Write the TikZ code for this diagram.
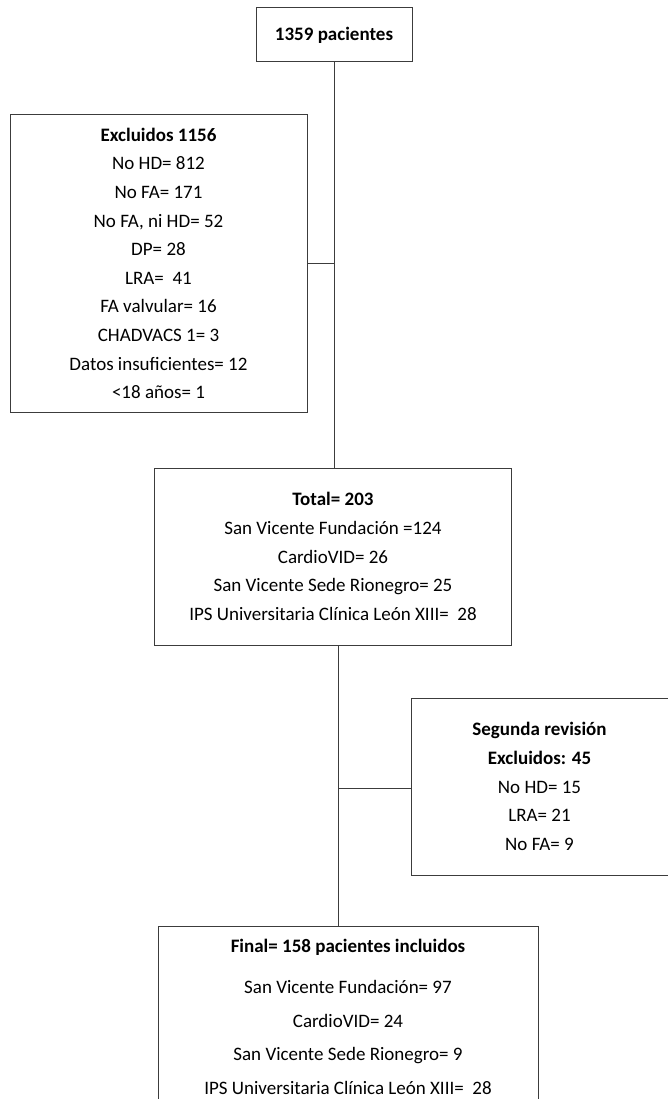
\documentclass[tikz,border=0pt]{standalone}
\usepackage{fontspec}
\setmainfont{Carlito}
\usetikzlibrary{calc}
\definecolor{flowline}{RGB}{60,60,60}
\newcommand{\fsz}{\fontsize{19}{28.6}\selectfont}
\tikzset{
  fbox/.style   = {draw=flowline, line width=1pt, align=center, inner sep=0pt, font=\fsz}, % a plain box
  ftitle/.style = {fbox, font=\fsz\bfseries},                                          % one bold line
  fline/.style  = {draw=flowline, line width=1pt},                                     % a joining line
}
\begin{document}
\begin{tikzpicture}[x=1pt, y=-1pt]
  \useasboundingbox (0,0) rectangle (667,1099);
  % boxes
  \node[ftitle, minimum width=156pt, minimum height=54pt] (start) at (334,35) {1359 pacientes};
  \node[fbox, minimum width=297pt, minimum height=297pt] (excl) at (158.5,263.5)
    {\textbf{Excluidos 1156}\\ No HD= 812\\ No FA= 171\\ No FA, ni HD= 52\\ DP= 28\\
     LRA= \ 41\\ FA valvular= 16\\ CHADVACS 1= 3\\ Datos insuficientes= 12\\ <18 años= 1};
  \node[fbox, minimum width=357pt, minimum height=177pt] (total) at (333,556.5)
    {\textbf{Total= 203}\\ San Vicente Fundación =124\\ CardioVID= 26\\
     San Vicente Sede Rionegro= 25\\ IPS Universitaria Clínica León XIII= \ 28};
  \node[fbox, minimum width=257pt, minimum height=177pt] (second) at (539.5,786.5)
    {\textbf{Segunda revisión}\\ \textbf{Excluidos: 45}\\ No HD= 15\\ LRA= 21\\ No FA= 9};
  \node[fbox, minimum width=380pt, minimum height=182pt, font=\fontsize{19}{33.8}\selectfont] (final) at (348,1017)
    {\textbf{Final= 158 pacientes incluidos}\\[7pt] San Vicente Fundación= 97\\ CardioVID= 24\\
     San Vicente Sede Rionegro= 9\\ IPS Universitaria Clínica León XIII= \ 28};
  % joining lines
  \coordinate (split) at (338,788);
  \draw[fline] (start.south) -- (start.south |- total.north);
  \draw[fline] (excl.east) -- (excl.east -| start.south);
  \draw[fline] (split |- total.south) -- (split |- final.north);
  \draw[fline] (split) -- (split -| second.west);
\end{tikzpicture}
\end{document}
